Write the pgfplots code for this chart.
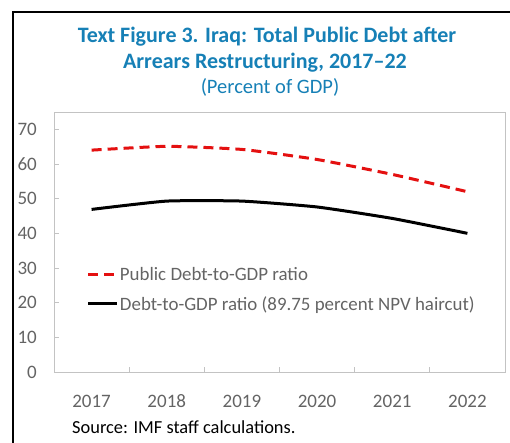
\documentclass[border=0pt]{standalone}
\usepackage{fontspec}
\setmainfont{Carlito}
\usepackage{pgfplots}
\pgfplotsset{compat=1.18}
\definecolor{ttl}{RGB}{22,128,182}
\definecolor{dred}{RGB}{228,16,16}
\definecolor{tgray}{RGB}{100,100,100}
\definecolor{agray}{RGB}{195,195,195}
\begin{document}
\begin{tikzpicture}[x=1pt,y=1pt]
\useasboundingbox (0,0) rectangle (510,443);
\draw[line width=2pt] (13,-2) -- (13,431) -- (512,431);
\node[font=\fontsize{22}{26}\selectfont\bfseries, text=ttl] at (267,406) {Text Figure 3. Iraq: Total Public Debt after};
\node[font=\fontsize{22}{26}\selectfont\bfseries, text=ttl] at (265,380) {Arrears Restructuring, 2017--22};
\node[font=\fontsize{20.5}{24}\selectfont, text=ttl] at (270,356) {(Percent of GDP)};
\node[font=\fontsize{18.4}{22}\selectfont, anchor=west, inner sep=0pt] at (72,16) {Source: IMF staff calculations.};
\begin{axis}[
  at={(54pt,71pt)}, anchor=south west,
  width=451pt, height=260pt, scale only axis,
  xmin=-0.5, xmax=5.5, ymin=0, ymax=75,
  axis line style={agray, line width=0.8pt},
  tick align=inside, tick pos=left,
  tick style={agray, line width=0.8pt},
  major tick length=5pt,
  xtick={0.5,1.5,2.5,3.5,4.5}, xticklabels={},
  extra x ticks={0,1,2,3,4,5},
  extra x tick labels={2017,2018,2019,2020,2021,2022},
  extra x tick style={major tick length=0pt},
  ytick={0,10,...,70},
  /pgf/number format/assume math mode=true,
  ticklabel style={font=\fontsize{19}{22}\selectfont, text=tgray},
  yticklabel style={inner sep=0pt, anchor=east, xshift=-17pt},
  xticklabel style={inner sep=0pt, anchor=base, yshift=-36pt},
  legend cell align=left,
  legend style={draw=none, fill=none, at={(0.066,0.317)}, anchor=west,
    font=\fontsize{18.9}{22}\selectfont, text=tgray, row sep=12pt,
    nodes={inner sep=1pt}},
  legend image code/.code={\draw[#1] (0pt,0pt) -- (29pt,0pt);},
]
\addplot[dred, line width=3pt, dash pattern=on 10pt off 6pt, smooth, tension=0.3]
  coordinates {(0,64.0) (1,65.1) (2,64.2) (3,61.3) (4,57.0) (5,52.0)};
\addlegendentry{Public Debt-to-GDP ratio}
\addplot[black, line width=3pt, smooth, tension=0.3]
  coordinates {(0,46.9) (1,49.3) (2,49.3) (3,47.6) (4,44.3) (5,40.0)};
\addlegendentry{Debt-to-GDP ratio (89.75 percent NPV haircut)}
\end{axis}
\end{tikzpicture}
\end{document}
